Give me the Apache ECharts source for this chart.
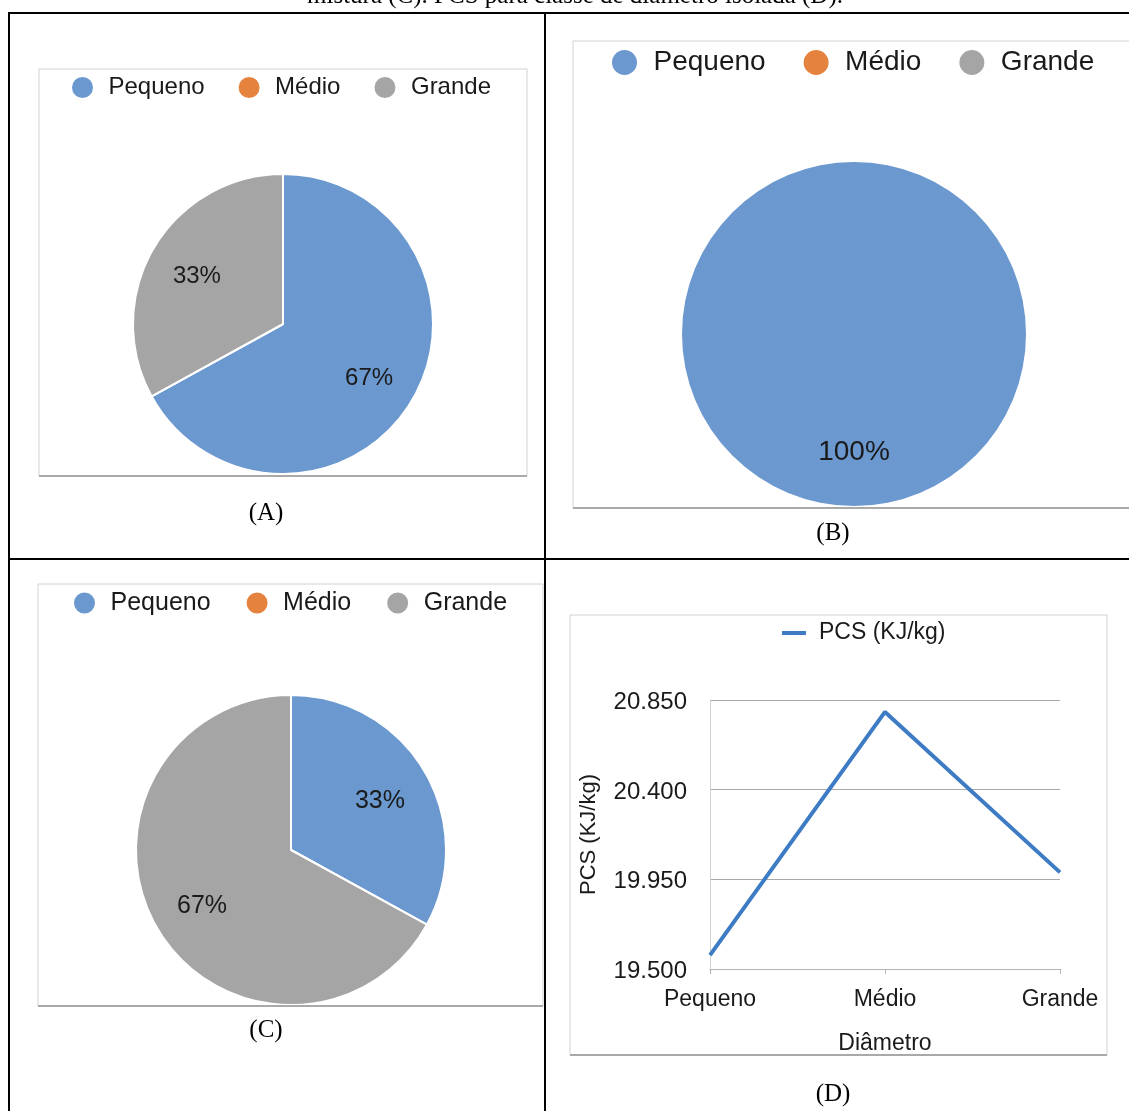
<!DOCTYPE html>
<html>
<head>
<meta charset="utf-8">
<script src="https://cdn.jsdelivr.net/npm/echarts@6/dist/echarts.min.js"></script>
<style>
  html, body { margin: 0; padding: 0; background: #ffffff; }
  #main { width: 1129px; height: 1111px; }
</style>
</head>
<body>
<div id="main"></div>
<script>
// Diameter classes and their share in each sample
const classes = ['Pequeno', 'Médio', 'Grande'];
const classColors = ['#6a98cf', '#e5833e', '#a5a5a5'];
const shareA = [67, 0, 33];
const shareB = [100, 0, 0];
const shareC = [33, 0, 67];

// Gross calorific value (PCS) per diameter class
const pcsName = 'PCS (KJ/kg)';
const pcsValues = [19570, 20790, 19985];
const pcsTicks = [19500, 19950, 20400, 20850];

const panelCaptions = ['(A)', '(B)', '(C)', '(D)'];
const headerText = 'mistura (C). PCS para classe de diâmetro isolada (D).';

const SANS = '"Liberation Sans", Arial, Helvetica, sans-serif';
const SERIF = '"Liberation Serif", "Times New Roman", serif';

// Thousands separator with a dot, as in pt-BR
function ptNumber(v) {
  const t = Math.round(v);
  return Math.floor(t / 1000) + '.' + String(t % 1000).padStart(3, '0');
}

// Put each slice label at two thirds of the radius, on the slice bisector
function labelAtTwoThirds(values, center, radius, dy) {
  const total = values.reduce((a, b) => a + b, 0);
  return function (p) {
    let before = 0;
    for (let i = 0; i < p.dataIndex; i++) before += values[i];
    const mid = (90 - (before + values[p.dataIndex] / 2) / total * 360) * Math.PI / 180;
    return {
      x: center[0] + Math.cos(mid) * radius * 2 / 3,
      y: center[1] - Math.sin(mid) * radius * 2 / 3 + dy,
      align: 'center',
      verticalAlign: 'middle'
    };
  };
}

function pieSeries(values, center, radius, fontSize, borderWidth, dy) {
  return {
    type: 'pie',
    center: center,
    radius: radius,
    startAngle: 90,
    clockwise: true,
    silent: true,
    emphasis: { disabled: true },
    itemStyle: { borderColor: '#ffffff', borderWidth: borderWidth },
    label: {
      show: true,
      position: 'inside',
      fontFamily: SANS,
      fontSize: fontSize,
      color: '#1a1a1a',
      formatter: p => (p.value > 0 ? Math.round(p.percent) + '%' : '')
    },
    labelLine: { show: false },
    labelLayout: labelAtTwoThirds(values, center, radius, dy),
    data: classes.map((name, i) => ({
      name: name,
      value: values[i],
      itemStyle: { color: classColors[i] }
    }))
  };
}

function pieLegend(left, centerY, fontSize, iconW, iconH, gap) {
  return {
    left: left,
    top: centerY - fontSize / 2,
    orient: 'horizontal',
    selectedMode: false,
    itemWidth: iconW,
    itemHeight: iconH,
    itemGap: gap,
    icon: 'circle',
    textStyle: { fontFamily: SANS, fontSize: fontSize, lineHeight: fontSize, color: '#1a1a1a' },
    data: classes.slice()
  };
}

function hLine(x1, y1, x2, y2, color, width) {
  return { type: 'line', silent: true, z: 10,
    shape: { x1: x1, y1: y1, x2: x2, y2: y2 },
    style: { stroke: color, lineWidth: width } };
}

function chartBox(x, y, w, h) {
  return [
    { type: 'rect', silent: true, z: 0,
      shape: { x: x, y: y, width: w, height: h },
      style: { fill: 'none', stroke: '#d2d2d2', lineWidth: 1 } },
    hLine(x, y + h, x + w, y + h, '#a9a9a9', 2)
  ];
}

function caption(text, x, y, size) {
  return { type: 'text', silent: true, z: 10,
    style: { text: text, x: x, y: y, fill: '#000000',
      font: size + 'px ' + SERIF,
      align: 'center', textAlign: 'center',
      verticalAlign: 'middle', textVerticalAlign: 'middle' } };
}

const graphicElements = [].concat(
  chartBox(39, 69, 488, 407),
  chartBox(573, 41, 600, 467),
  chartBox(38, 584, 505, 422),
  chartBox(570, 615, 537, 440),
  [
    // table rules
    hLine(8, 13, 1129, 13, '#000000', 2),
    hLine(9, 12, 9, 1111, '#000000', 2),
    hLine(545, 12, 545, 1111, '#000000', 2),
    hLine(8, 559, 1129, 559, '#000000', 2),
    // header line above the table
    { type: 'text', silent: true, z: 10,
      style: { text: headerText, x: 575, y: 9, fill: '#000000',
        font: '25px ' + SERIF,
        align: 'center', textAlign: 'center',
        verticalAlign: 'bottom', textVerticalAlign: 'bottom' } },
    caption(panelCaptions[0], 266, 513, 25),
    caption(panelCaptions[1], 833, 533, 25),
    caption(panelCaptions[2], 266, 1030, 25),
    caption(panelCaptions[3], 833, 1094, 25)
  ]
);

const chart = echarts.init(document.getElementById('main'), null, { renderer: 'canvas' });

chart.setOption({
  animation: false,
  backgroundColor: '#ffffff',
  legend: [
    pieLegend(65, 82, 24, 42, 23, 32),
    pieLegend(605, 57, 28, 48, 27, 36),
    pieLegend(67, 598, 25, 42, 23, 34),
    {
      left: 777,
      top: 628 - 11.5,
      selectedMode: false,
      itemWidth: 24,
      itemHeight: 4,
      icon: 'rect',
      textStyle: { fontFamily: SANS, fontSize: 23, lineHeight: 23, color: '#1a1a1a', padding: [0, 0, 0, 8] },
      data: [pcsName]
    }
  ],
  grid: {
    left: 710,
    right: 69,
    top: 700,
    bottom: 142,
    containLabel: false
  },
  xAxis: {
    type: 'category',
    data: classes,
    boundaryGap: false,
    name: 'Diâmetro',
    nameLocation: 'middle',
    nameGap: 63,
    nameTextStyle: { fontFamily: SANS, fontSize: 23, color: '#1a1a1a' },
    axisLine: { show: true, lineStyle: { color: '#b4b4b4', width: 1 } },
    axisTick: { show: true, length: 5, alignWithLabel: true, lineStyle: { color: '#b4b4b4' } },
    axisLabel: { fontFamily: SANS, fontSize: 23, color: '#1a1a1a', margin: 19 },
    splitLine: { show: false }
  },
  yAxis: {
    type: 'value',
    min: pcsTicks[0],
    max: pcsTicks[pcsTicks.length - 1],
    interval: pcsTicks[1] - pcsTicks[0],
    name: pcsName,
    nameLocation: 'middle',
    nameGap: 110,
    nameTextStyle: { fontFamily: SANS, fontSize: 22, color: '#1a1a1a' },
    axisLine: { show: true, lineStyle: { color: '#d0d0d0', width: 1 } },
    axisTick: { show: false },
    axisLabel: { fontFamily: SANS, fontSize: 24, color: '#1a1a1a', margin: 23,
      verticalAlign: 'top', lineHeight: 5, formatter: ptNumber },
    splitLine: { show: true, lineStyle: { color: '#a8a8a8', width: 1 } }
  },
  series: [
    pieSeries(shareA, [283, 324], 150, 24, 2, 3),
    pieSeries(shareB, [854, 334], 172, 28, 0, 4),
    pieSeries(shareC, [291, 850], 155, 25, 2, 4),
    {
      type: 'line',
      name: pcsName,
      data: pcsValues,
      showSymbol: false,
      symbol: 'none',
      silent: true,
      color: '#3d7cc4',
      lineStyle: { color: '#3d7cc4', width: 4 },
      emphasis: { disabled: true }
    }
  ],
  graphic: { elements: graphicElements }
});
</script>
</body>
</html>
